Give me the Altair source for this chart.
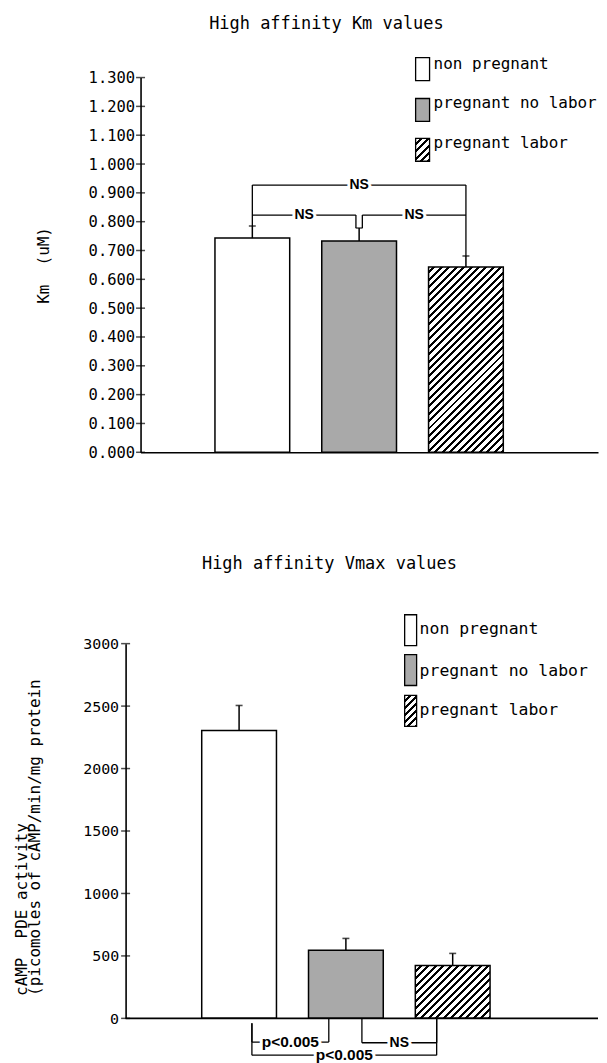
import altair as alt
import pandas as pd

# ---------------- data ----------------
groups = ["non pregnant", "pregnant no labor", "pregnant labor"]
positions = [1, 2, 3]

km_mean = [0.743, 0.733, 0.643]
km_err = [0.785, 0.778, 0.681]
km_ticks = [0.0, 0.1, 0.2, 0.3, 0.4, 0.5, 0.6, 0.7, 0.8, 0.9, 1.0, 1.1, 1.2, 1.3]

vmax_mean = [2305, 545, 423]
vmax_err = [2505, 640, 520]
vmax_ticks = [0, 500, 1000, 1500, 2000, 2500, 3000]

# significance brackets: start, end, level, label, drop ends
km_br_x0 = [1.0, 2.03, 1.0]
km_br_x1 = [1.97, 3.0, 3.0]
km_br_level = [0.823, 0.823, 0.927]
km_br_end0 = [0.785, 0.778, 0.823]
km_br_end1 = [0.778, 0.681, 0.823]
km_br_label = ["NS", "NS", "NS"]

vmax_br_x0 = [1.12, 2.15, 1.12]
vmax_br_x1 = [1.84, 2.85, 2.85]
vmax_br_level = [-190, -195, -295]
vmax_br_end0 = [-40, 0, -40]
vmax_br_end1 = [0, 0, 0]
vmax_br_label = ["p<0.005", "NS", "p<0.005"]

# ---------------- style ----------------
MONO = "DejaVu Sans Mono"
SANS = "Liberation Sans"
W, H = 459, 376
BAR = 75
GRAY = "#a9a9a9"
NB = "\u00a0"


def hatch(w, h, period=5.2, ink=0.4):
    c = (w + h) / (w * w + h * h)
    n = max(1, round((w + h) / (2 ** 0.5 * period)))
    stops = []
    for k in range(n):
        a, b, e = k / n, (k + 1 - ink) / n, (k + 1) / n
        stops += [
            alt.GradientStop(offset=a, color="white"),
            alt.GradientStop(offset=b, color="white"),
            alt.GradientStop(offset=b, color="black"),
            alt.GradientStop(offset=e, color="black"),
        ]
    return alt.LinearGradient(gradient="linear", stops=stops, x1=0, y1=0, x2=c * w, y2=c * h)


def brackets(x0, x1, level, end0, end1, label):
    seg = []
    for a, b, lv, e0, e1 in zip(x0, x1, level, end0, end1):
        seg.append({"x": a, "x2": b, "y": lv, "y2": lv})
        seg.append({"x": a, "x2": a, "y": lv, "y2": e0})
        seg.append({"x": b, "x2": b, "y": lv, "y2": e1})
    lab = pd.DataFrame({
        "xm": [(a + b) / 2 for a, b in zip(x0, x1)],
        "y": level,
        "label": label,
        "fs": [14 if t == "NS" else 15.5 for t in label],
    })
    return pd.DataFrame(seg), lab


def build(title, t_off, t_dx, mean, err, ticks, ydom, xdom, yaxis, xaxis,
          br, legend_pos, tick_x, baseline):
    bars = pd.DataFrame({"group": groups, "pos": positions, "mean": mean, "err": err})
    xs = alt.Scale(domain=xdom, nice=False, zero=False)
    ys = alt.Scale(domain=ydom, nice=False)

    def X(f):
        return alt.X(f, type="quantitative", scale=xs, axis=xaxis)

    def Y(f):
        return alt.Y(f, type="quantitative", scale=ys, axis=yaxis)

    layers = []
    layers.append(
        alt.Chart(bars).transform_filter(alt.datum.group != groups[2])
        .mark_bar(orient="vertical", size=BAR, stroke="black", strokeWidth=1.5)
        .encode(x=X("pos"), y=Y("mean"),
                fill=alt.Fill("group:N", scale=alt.Scale(domain=groups[:2], range=["white", GRAY]), legend=None))
    )
    hh = mean[2] / ydom[1] * H
    layers.append(
        alt.Chart(bars).transform_filter(alt.datum.group == groups[2])
        .mark_bar(orient="vertical", size=BAR, stroke="black", strokeWidth=1.5, fill=hatch(BAR, hh))
        .encode(x=X("pos"), y=Y("mean"))
    )
    layers.append(
        alt.Chart(bars).mark_rule(color="black", strokeWidth=1.5)
        .encode(x=X("pos"), y=Y("mean"), y2="err:Q")
    )
    layers.append(
        alt.Chart(bars).mark_tick(orient="horizontal", size=7, thickness=1.6, color="black")
        .encode(x=X("pos"), y=Y("err"))
    )
    # ticks crossing the axis
    layers.append(
        alt.Chart(pd.DataFrame({"v": ticks})).mark_tick(orient="horizontal", size=9, thickness=1.5, color="black")
        .encode(x=alt.value(tick_x), y=Y("v"))
    )
    if baseline:
        layers.append(
            alt.Chart(pd.DataFrame({"v": [0]})).mark_rule(color="black", strokeWidth=1.6)
            .encode(y=Y("v"), x=alt.value(tick_x), x2=alt.value(W))
        )
    seg, lab = br
    layers.append(
        alt.Chart(seg).mark_rule(color="black", strokeWidth=1.3)
        .encode(x=X("x"), x2="x2:Q", y=Y("y"), y2="y2:Q")
    )
    layers.append(
        alt.Chart(lab).mark_text(font=SANS, fontWeight="bold", fill="white", stroke="white", strokeWidth=6)
        .encode(x=X("xm"), y=Y("y"), text="label:N", size=alt.Size("fs:Q", scale=None))
    )
    layers.append(
        alt.Chart(lab).mark_text(font=SANS, fontWeight="bold", color="black")
        .encode(x=X("xm"), y=Y("y"), text="label:N", size=alt.Size("fs:Q", scale=None))
    )
    # legend
    (bx0, bw, bys, bh, tx, tys, lfs) = legend_pos
    fills = ["white", GRAY, hatch(bw, bh)]
    for g, f, by, ty in zip(groups, fills, bys, tys):
        d = pd.DataFrame({"label": [g]})
        layers.append(
            alt.Chart(d).mark_rect(fill=f, stroke="black", strokeWidth=1.3)
            .encode(x=alt.value(bx0), x2=alt.value(bx0 + bw), y=alt.value(by), y2=alt.value(by + bh))
        )
        layers.append(
            alt.Chart(d).mark_text(font=MONO, fontSize=lfs, align="left", baseline="alphabetic", color="black")
            .encode(text="label:N", x=alt.value(tx), y=alt.value(ty))
        )

    return alt.layer(*layers).properties(
        width=W, height=H,
        title=alt.TitleParams(text=title, font=MONO, fontSize=17, fontWeight="normal", color="black",
                              anchor="middle", frame="group", offset=t_off, baseline="alphabetic", dx=t_dx),
    )


top_axis_y = alt.Axis(values=km_ticks, format=".3f", ticks=False, labelPadding=6, labelFont=MONO,
                      labelFontSize=15.5, labelColor="black", domainColor="black", domainWidth=1.6,
                      grid=False, title="Km" + NB + NB + "(uM)", titleFont=MONO, titleFontSize=16,
                      titleFontWeight="normal", titleColor="black", titleAngle=270, titleAlign="center",
                      titleBaseline="alphabetic", titleX=-92, titleY=H / 2)
top_axis_x = alt.Axis(labels=False, ticks=False, grid=False, title=None, domainColor="black", domainWidth=1.6)

bot_axis_y = alt.Axis(values=vmax_ticks, format="d", ticks=False, labelPadding=7, labelFont=MONO,
                      labelFontSize=15, labelColor="black", domainColor="black", domainWidth=1.6,
                      grid=False, offset=15,
                      title=["cAMP" + NB + NB + "PDE activity", "(picomoles of cAMP/min/mg protein"],
                      titleFont=MONO, titleFontSize=16, titleFontWeight="normal", titleColor="black",
                      titleAngle=270, titleAlign="left", titleBaseline="alphabetic", titleLineHeight=12.5,
                      titleX=-99, titleY=353)

top = build("High affinity Km values", 10, -43, km_mean, km_err, km_ticks, [0, 1.3], [0, 4.19],
            top_axis_y, top_axis_x,
            brackets(km_br_x0, km_br_x1, km_br_level, km_br_end0, km_br_end1, km_br_label),
            (276, 14, [-20, 21, 61], 23, 294, [-9, 31, 71], 16), 0, False)

bottom = build("High affinity Vmax values", 28, -40, vmax_mean, vmax_err, vmax_ticks, [0, 3000],
               [0.124, 4.314], bot_axis_y, None,
               brackets(vmax_br_x0, vmax_br_x1, vmax_br_level, vmax_br_end0, vmax_br_end1, vmax_br_label),
               (265, 12, [-29, 11, 52], 31, 280, [-10, 32, 72], 16.5), -15, True)

chart = alt.vconcat(top, bottom, spacing=94).properties(
    padding={"left": 5, "top": 5, "right": 0, "bottom": 0}
).configure_view(stroke=None)

chart.save("out.html", embed_options={"renderer": "svg", "actions": False})
